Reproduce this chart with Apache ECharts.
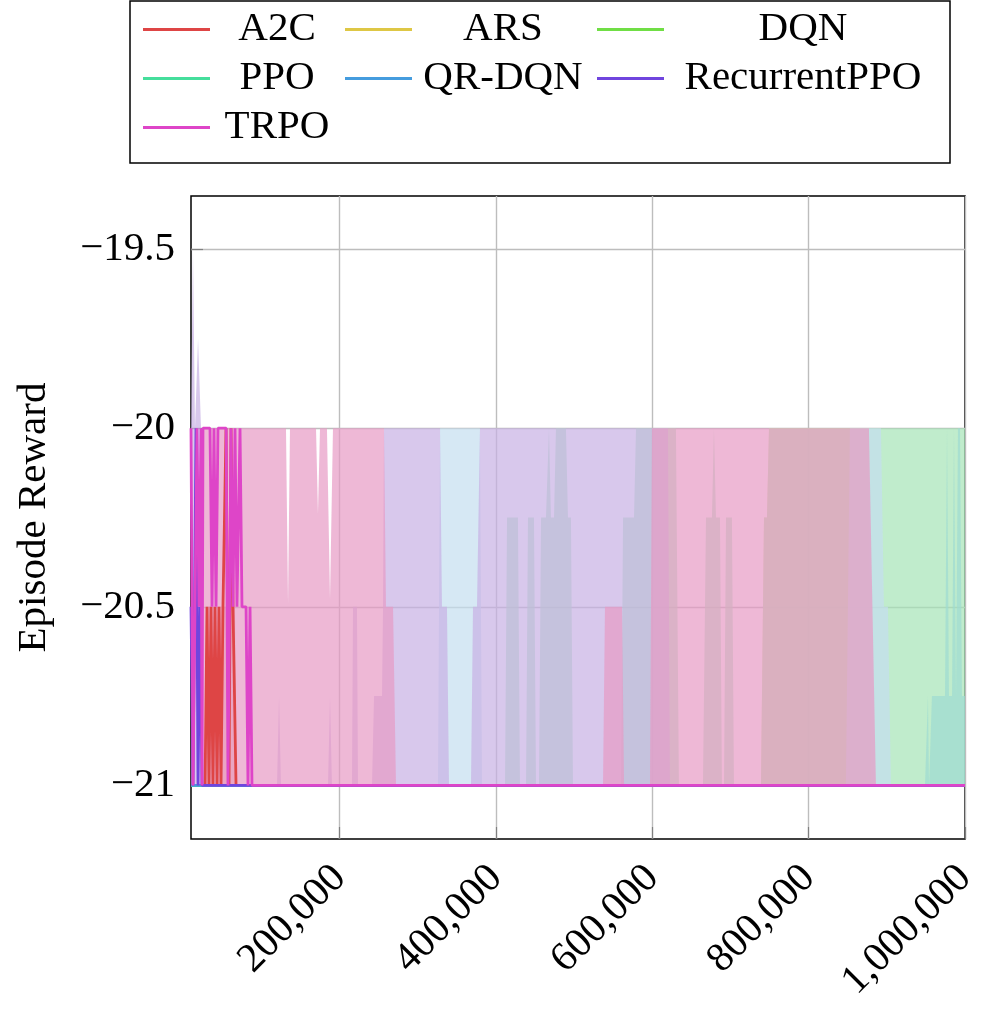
<!DOCTYPE html>
<html><head><meta charset="utf-8">
<script src="https://cdn.jsdelivr.net/npm/echarts@6/dist/echarts.min.js"></script>
<style>html,body{margin:0;padding:0;background:#fff}#chart{width:998px;height:1021px}</style>
</head><body><div id="chart"></div>
<script>
// ---------- data ----------
const algorithms = ['A2C', 'ARS', 'DQN', 'PPO', 'QR-DQN', 'RecurrentPPO', 'TRPO'];
const xTicks = [200000, 400000, 600000, 800000, 1000000];
const yTicks = [-21, -20.5, -20, -19.5];

// mean episode reward curves [timestep, reward]
const a2cMean = [[10000,-21],[28000,-21],[30500,-20.5],[33000,-21],[35600,-20.5],[38100,-21],[40700,-20.5],[43300,-21],[45800,-20.5],[48400,-21],[50900,-20.5],[54800,-20],[58600,-21],[61200,-20],[63700,-20.5],[67600,-21],[1000000,-21]];
const arsMean = [[10000,-21],[1000000,-21]];
const dqnMean = [[10000,-21],[1000000,-21]];
const ppoMean = [[10000,-21],[1000000,-21]];
const qrdqnMean = [[10000,-21],[1000000,-21]];
const recurrentPpoMean = [[10000,-20.5],[12600,-21],[16400,-20],[19000,-21],[21500,-20.5],[24100,-21],[1000000,-21]];
const trpoMean = [[10000,-20],[12600,-21],[15100,-20.5],[17700,-20],[20200,-20.5],[22800,-20],[24100,-21],[25300,-20],[34300,-20],[36900,-20.5],[39400,-20],[42000,-20.5],[44500,-20],[55000,-20],[57300,-21],[61200,-20],[63700,-20.5],[66300,-20],[68800,-20.5],[72700,-20],[75200,-20.5],[80400,-20.5],[82900,-21],[85500,-20.5],[88000,-21],[1000000,-21]];

// upper edge of the shaded range (lower edge is -21) [timestep, reward]
const a2cUpper = [[27900,-21],[29200,-20.5],[66300,-20.5],[67600,-21]];
const arsUpper = [[739000,-21],[742900,-20.25],[746700,-20.25],[749300,-20],[877100,-20],[880000,-21]];
const dqnUpper = [[10000,-21],[411600,-21],[414200,-20.25],[428200,-20.25],[430800,-21],[438500,-21],[441000,-20.25],[448700,-20.25],[451300,-21],[455100,-21],[457700,-20.25],[464000,-20.25],[467900,-20],[470400,-20.25],[474300,-20.25],[476800,-20],[489600,-20],[492200,-20.25],[496000,-20.25],[498600,-21],[560000,-21],[562600,-20.25],[576600,-20.25],[579200,-20],[630300,-20],[634100,-21],[664800,-21],[668700,-20.25],[676300,-20.25],[678900,-20],[681500,-20.25],[686600,-20.25],[689100,-21],[691700,-21],[694300,-20.25],[701900,-20.25],[704500,-21],[739000,-21],[742900,-20.25],[746700,-20.25],[749300,-20],[1000000,-20]];
const ppoUpper = [[948800,-21],[952600,-20.75],[954000,-21],[957700,-20.75],[974400,-20.75],[977000,-20],[979500,-20.75],[983400,-20.75],[985900,-20],[988500,-20.75],[991000,-20],[993600,-20],[996100,-20.75],[1000000,-20.75]];
const qrdqnUpper = [[325900,-21],[328500,-20],[379600,-20],[382200,-21],[847700,-21],[852800,-20],[892500,-20],[896300,-20.5],[901400,-20.5],[905300,-21]];
const recurrentPpoUpper = [[10000,-20],[12500,-19.5],[15100,-20],[19000,-19.75],[22800,-20],[25300,-21],[120000,-21],[122600,-20.75],[125100,-21],[185200,-21],[187800,-20.75],[190300,-21],[215900,-21],[217200,-20.5],[222300,-20.5],[223600,-21],[241500,-21],[244100,-20.75],[254300,-20.75],[255600,-20.5],[256800,-20],[328500,-20],[331000,-20.5],[337400,-20.5],[340000,-21],[368100,-21],[370700,-20.5],[375800,-20.5],[379600,-20],[620100,-20],[622600,-21]];
const trpoUpper = [[24100,-21],[25300,-20],[131500,-20],[134100,-20.49],[136600,-20],[169900,-20],[172400,-20.24],[175000,-20],[183900,-20],[187800,-20.48],[191600,-20],[256800,-20],[259400,-20.5],[268400,-20.5],[272200,-21],[537000,-21],[539500,-20.5],[561300,-20.5],[563900,-21],[597100,-21],[599600,-20],[877100,-20],[886100,-21]];

// ---------- styling ----------
const meanData = [a2cMean, arsMean, dqnMean, ppoMean, qrdqnMean, recurrentPpoMean, trpoMean];
const upperData = [a2cUpper, arsUpper, dqnUpper, ppoUpper, qrdqnUpper, recurrentPpoUpper, trpoUpper];
const lineColors = ['#de4545', '#dec745', '#70de45', '#45de9c', '#459cde', '#7045de', '#de45c8'];
const fillColors = ['#eaa2a2', '#eadb86', '#a5e4b6', '#9edbd1', '#c5deef', '#c7b0e4', '#e79ac4'];
const FONT = 'Liberation Serif';
const FS = 41;

const series = [];
algorithms.forEach((n, i) => series.push({
  name: n, type: 'line', data: meanData[i], symbol: 'none', z: 3, animation: false, silent: true,
  lineStyle: { color: lineColors[i], width: 2.8 }, itemStyle: { color: lineColors[i] }
}));
algorithms.forEach((n, i) => series.push({
  name: n, type: 'line', data: upperData[i], symbol: 'none', z: 1, animation: false, silent: true,
  lineStyle: { width: 0, opacity: 0 }, itemStyle: { color: lineColors[i] },
  areaStyle: { color: fillColors[i], opacity: 0.7, origin: -21 }
}));

const colX = [143, 345, 597];
const colTextW = [124, 172, 268];
const rowCenter = [32, 81, 130];
const legends = algorithms.map((n, i) => {
  const r = Math.floor(i / 3), c = i % 3;
  return {
    data: [{ name: n, itemStyle: { color: lineColors[i] } }],
    left: colX[c], top: rowCenter[r] - 23, padding: 0,
    icon: 'rect', itemWidth: 67, itemHeight: 3, selectedMode: false,
    formatter: name => '{c|' + name + '}',
    textStyle: { fontFamily: FONT, fontSize: FS, color: '#000',
      rich: { c: { width: colTextW[c], align: 'center', fontFamily: FONT, fontSize: FS, lineHeight: 46, color: '#000' } } }
  };
});

const fmtX = v => String(v).replace(/\B(?=(\d{3})+(?!\d))/g, ',');
const fmtY = v => (v < 0 ? '\u2212' : '') + Math.abs(v);

const chart = echarts.init(document.getElementById('chart'), null, { renderer: 'canvas' });
chart.setOption({
  animation: false,
  backgroundColor: '#fff',
  legend: legends,
  graphic: [{ type: 'rect', shape: { x: 130, y: 1, width: 820, height: 162 }, style: { fill: 'none', stroke: '#000', lineWidth: 1.5 }, silent: true }],
  grid: { left: 191, top: 196, width: 774, height: 643, show: true, borderColor: '#000', borderWidth: 1.5, backgroundColor: 'transparent' },
  xAxis: {
    type: 'value', min: 10000, max: 1000000,
    axisLine: { show: false },
    axisTick: { show: true, inside: true, length: 12, customValues: xTicks, lineStyle: { color: '#808080', width: 1.2 } },
    axisLabel: { customValues: xTicks, rotate: 45, margin: 33, fontFamily: FONT, fontSize: FS, color: '#000', formatter: fmtX },
    splitLine: { show: true, lineStyle: { color: '#bdbdbd', width: 1.4 } }
  },
  yAxis: {
    type: 'value', min: -21.15, max: -19.35,
    axisLine: { show: false },
    axisTick: { show: true, inside: true, length: 12, customValues: yTicks, lineStyle: { color: '#808080', width: 1.2 } },
    axisLabel: { customValues: yTicks, margin: 16, fontFamily: FONT, fontSize: FS, color: '#000', formatter: fmtY },
    splitLine: { show: true, lineStyle: { color: '#bdbdbd', width: 1.4 } },
    name: 'Episode Reward', nameLocation: 'middle', nameGap: 136,
    nameTextStyle: { fontFamily: FONT, fontSize: FS, color: '#000' }
  },
  series: series
});
</script></body></html>
